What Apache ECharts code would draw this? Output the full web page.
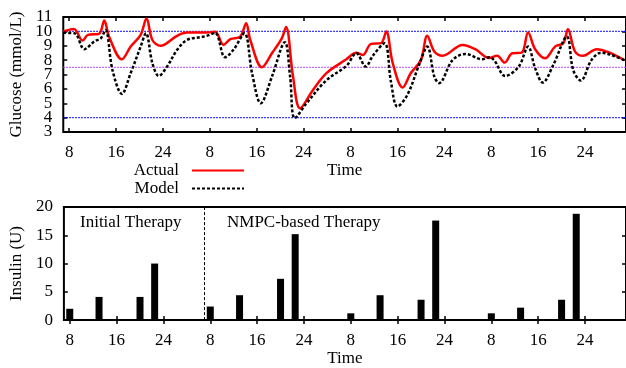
<!DOCTYPE html>
<html>
<head>
<meta charset="utf-8">
<script src="https://cdn.jsdelivr.net/npm/echarts@6/dist/echarts.min.js"></script>
<style>
html,body{margin:0;padding:0;background:#fff;}
#chart{width:626px;height:368px;}
</style>
</head>
<body>
<div id="chart"></div>
<script>
// ---- Data ----
const xTickValues = [8,16,24,32,40,48,56,64,72,80,88,96];
const xTickLabels = ['8','16','24','8','16','24','8','16','24','8','16','24'];
const glucoseTickValues = [3,4,5,6,7,8,9,10,11];
const insulinTickValues = [0,5,10,15,20];

const actualTime = [7.0,8.8,10.3,11.2,13.1,14.0,14.8,17.0,18.5,20.2,21.2,22.2,23.6,26.4,28.1,31.5,
  32.9,34.35,35.5,37.2,38.2,38.9,40.9,42.6,44.3,45.0,46.2,47.4,49.6,51.9,55.3,
  57.0,58.1,59.5,61.2,62.1,63.2,64.9,66.3,68.0,69.1,70.3,71.7,75.1,77.3,79.6,
  81.0,82.3,83.6,85.2,86.3,87.5,89.2,90.9,92.3,93.1,94.3,95.7,98.0,100.2,102.7];
const actualGlucose = [10.0,10.17,9.36,9.76,9.83,10.75,9.64,8.06,8.94,9.76,10.9,9.4,9.0,9.69,9.92,9.92,
  9.97,9.06,9.46,9.64,10.57,9.4,7.5,8.48,9.53,10.3,6.85,4.65,5.93,7.1,8.06,
  8.52,8.36,9.13,9.18,9.99,7.8,6.1,7.1,8.0,9.69,8.6,8.3,9.06,8.76,8.15,
  8.3,7.83,8.48,8.52,9.92,8.76,8.13,8.94,9.18,10.15,8.6,8.3,8.76,8.52,8.0];

const modelTime = [7.0,8.9,10.6,12.3,13.4,14.2,15.4,17.0,18.5,20.2,21.1,22.2,23.3,24.7,26.4,28.1,30.4,31.5,
  32.9,34.6,36.0,37.9,39.2,40.7,42.6,44.8,45.7,46.5,48.5,51.9,55.3,
  57.0,58.6,59.8,61.8,62.9,64.0,65.7,67.7,69.1,70.3,71.1,73.4,75.6,78.5,79.6,
  80.5,82.4,84.7,86.3,87.5,88.8,90.6,92.9,94.0,95.3,97.1,98.8,100.5,102.7];
const modelGlucose = [9.9,9.87,8.76,9.3,9.52,10.1,7.3,5.65,7.1,8.94,9.87,7.8,6.9,7.55,8.7,9.4,9.6,9.69,
  9.9,8.2,8.7,9.87,7.1,5.0,6.85,9.25,6.85,3.96,5.0,6.6,7.6,
  8.48,7.55,8.3,9.18,6.5,4.77,5.58,7.67,8.94,6.85,6.4,8.0,8.43,8.06,8.2,
  8.0,6.9,7.55,8.94,7.44,6.44,7.67,9.64,7.3,6.58,8.0,8.52,8.36,8.0];

const insulinTime = [8,13,20,22.5, 32,37,44,46.5, 56,61,68,70.5, 80,85,92,94.5];
const insulinDose = [2,4.1,4.1,10, 2.4,4.4,7.3,15.2, 1.2,4.4,3.6,17.6, 1.2,2.2,3.6,18.8];

const refLevels = [10, 7.5, 4];
const timeRange = [7, 103];
const therapySwitch = 31;

// ---- Chart ----
const FONT = 'Liberation Serif';
const pair = (xs, ys) => xs.map((x, i) => [x, ys[i]]);
const fmtX = v => { const i = xTickValues.indexOf(v); return i >= 0 ? xTickLabels[i] : ''; };
const LABEL = {margin:11, fontSize:17, fontFamily:FONT, color:'#000', hideOverlap:false, showMinLabel:true, showMaxLabel:true};

function xAxisPair(gridIndex) {
  const tick = {show:true, inside:true, length:4, customValues:xTickValues, lineStyle:{color:'#000', width:1.5}};
  return [
    {type:'value', gridIndex, min:timeRange[0], max:timeRange[1], position:'bottom',
     axisLine:{show:false}, splitLine:{show:false}, axisTick:tick,
     axisLabel:{show:true, customValues:xTickValues, formatter:fmtX, margin:12, fontSize:17, fontFamily:FONT, color:'#000'},
     name:'Time', nameLocation:'middle', nameGap:29, nameTextStyle:{fontSize:17, fontFamily:FONT, color:'#000'}},
    {type:'value', gridIndex, min:timeRange[0], max:timeRange[1], position:'top',
     axisLine:{show:false}, splitLine:{show:false}, axisTick:tick, axisLabel:{show:false}}
  ];
}
// Labels split over two coincident left axes (alternating values) so dense labels are not dropped.
function yAxes(gridIndex, values, name, split) {
  const tick = {show:true, inside:true, length:4, customValues:values, lineStyle:{color:'#000', width:1.5}};
  const lo = values[0], hi = values[values.length - 1];
  const setA = split ? values.filter((v, i) => i % 2 === 0) : values;
  const setB = split ? values.filter((v, i) => i % 2 === 1) : [];
  const axes = [
    {type:'value', gridIndex, min:lo, max:hi, position:'left',
     axisLine:{show:false}, splitLine:{show:false}, axisTick:tick,
     axisLabel:Object.assign({customValues:setA}, LABEL),
     name, nameLocation:'middle', nameGap:37, nameRotate:90,
     nameTextStyle:{fontSize:17, fontFamily:FONT, color:'#000'}},
    {type:'value', gridIndex, min:lo, max:hi, position:'right',
     axisLine:{show:false}, splitLine:{show:false}, axisTick:tick, axisLabel:{show:false}}
  ];
  if (split) {
    axes.push({type:'value', gridIndex, min:lo, max:hi, position:'left', offset:0,
     axisLine:{show:false}, splitLine:{show:false}, axisTick:{show:false},
     axisLabel:Object.assign({customValues:setB}, LABEL)});
  }
  return axes;
}

const refColors = ['#0000ff', '#b040ff', '#0000ff'];
const legendBase = {right:381, align:'right', itemWidth:52, itemHeight:14, padding:0,
  itemStyle:{color:'transparent', borderColor:'transparent', borderWidth:0, opacity:0},
  textStyle:{fontSize:17, fontFamily:FONT, color:'#000', padding:[0,8,0,0]}};

const refSeries = refLevels.map((v, i) => ({
  name:'ref' + i, type:'line', xAxisIndex:0, yAxisIndex:0, silent:true, symbol:'none', z:1,
  data:[[timeRange[0], v], [timeRange[1], v]],
  lineStyle:{color:refColors[i], type:[1.5,1.5], width:1.2}
}));

const topY = yAxes(0, glucoseTickValues, 'Glucose (mmol/L)', true);
const botY = yAxes(1, insulinTickValues, 'Insulin (U)', false);

const option = {
  animation:false,
  backgroundColor:'#fff',
  textStyle:{fontFamily:FONT},
  grid:[
    {left:62, top:17, width:566, height:115, show:true, borderColor:'#000', borderWidth:2, backgroundColor:'transparent'},
    {left:62, top:207, width:566, height:115, show:true, borderColor:'#000', borderWidth:2, backgroundColor:'transparent'}
  ],
  xAxis:[...xAxisPair(0), ...xAxisPair(1)],
  yAxis:[...topY, ...botY],
  legend:[
    Object.assign({data:['Actual'], top:162}, legendBase),
    Object.assign({data:['Model'], top:180}, legendBase)
  ],
  graphic:[
    {type:'text', left:80, top:214, style:{text:'Initial Therapy', font:'17px "Liberation Serif"', fill:'#000'}},
    {type:'text', left:227, top:214, style:{text:'NMPC-based Therapy', font:'17px "Liberation Serif"', fill:'#000'}}
  ],
  series:[
    ...refSeries,
    {name:'Actual', type:'line', xAxisIndex:0, yAxisIndex:0, data:pair(actualTime, actualGlucose),
     smooth:0.35, symbol:'none', z:3, color:'#ff0000', lineStyle:{color:'#ff0000', width:2.5}},
    {name:'Model', type:'line', xAxisIndex:0, yAxisIndex:0, data:pair(modelTime, modelGlucose),
     smooth:0.35, symbol:'none', z:4, color:'#000', lineStyle:{color:'#000', width:2.5, type:[3,2]}},
    {name:'Insulin', type:'bar', xAxisIndex:2, yAxisIndex:topY.length, data:pair(insulinTime, insulinDose),
     barWidth:7, itemStyle:{color:'#000'},
     markLine:{silent:true, symbol:'none', label:{show:false},
       data:[{xAxis:therapySwitch}], lineStyle:{color:'#000', type:[3,2], width:1}}}
  ]
};

const chart = echarts.init(document.getElementById('chart'), null, {renderer:'canvas'});
chart.setOption(option);
</script>
</body>
</html>
